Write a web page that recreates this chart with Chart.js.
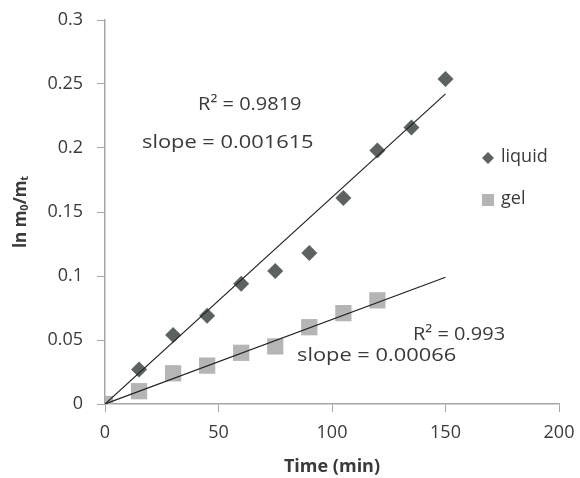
<!DOCTYPE html>
<html>
<head>
<meta charset="utf-8">
<script src="https://cdn.jsdelivr.net/npm/chart.js@4/dist/chart.umd.min.js"></script>
<style>
html,body{margin:0;padding:0;background:#fff;}
#wrap{width:580px;height:478px;position:relative;}
</style>
</head>
<body>
<div id="wrap"><canvas id="c" width="580" height="478"></canvas></div>
<script>
// Data
const timeMin = [0, 15, 30, 45, 60, 75, 90, 105, 120, 135, 150];
const liquidValues = [0, 0.027, 0.054, 0.069, 0.094, 0.104, 0.118, 0.161, 0.198, 0.216, 0.254];
const gelTime = [0, 15, 30, 45, 60, 75, 90, 105, 120];
const gelValues = [0, 0.010, 0.024, 0.030, 0.040, 0.045, 0.060, 0.071, 0.081];
const liquidSlope = 0.001615;
const gelSlope = 0.00066;
const fitEnd = 150;
const xTicks = [0, 50, 100, 150, 200];
const yTicks = [0, 0.05, 0.1, 0.15, 0.2, 0.25, 0.3];
const annotationTexts = ['R² = 0.9819', 'slope = 0.001615', 'R² = 0.993', 'slope = 0.00066'];
const annotationX = [41, 16.3, 135.7, 84.6];
const annotationY = [0.2336, 0.204, 0.0539, 0.0375];

const FONT = "'Open Sans', 'Liberation Sans', sans-serif";
const TXT = '#3a3a3a';
const AXIS = '#a6a6a6';
const LIQ = '#5c6262';
const GEL = '#b5b5b5';

const pts = (xs, ys) => xs.map((x, i) => ({x: x, y: ys[i]}));

const overlay = {
  id: 'overlay',
  afterDraw(chart) {
    const ctx = chart.ctx;
    const xs = chart.scales.x, ys = chart.scales.y;
    ctx.save();
    ctx.fillStyle = TXT;
    ctx.textAlign = 'left';
    ctx.textBaseline = 'middle';
    annotationTexts.forEach((t, i) => {
      const stretch = t.startsWith('slope') ? 1.18 : 1.08;
      ctx.save();
      ctx.font = "18.5px " + FONT;
      ctx.translate(xs.getPixelForValue(annotationX[i]), ys.getPixelForValue(annotationY[i]));
      ctx.scale(stretch, 1);
      ctx.fillText(t, 0, 0);
      ctx.restore();
    });
    // legend
    const ds = chart.data.datasets;
    const lx = 488, ly = [158, 200];
    [0, 1].forEach(i => {
      const d = ds[i];
      ctx.fillStyle = d.backgroundColor;
      const cx = lx, cy = ly[i];
      ctx.beginPath();
      if (d.pointStyle === 'rectRot') {
        ctx.moveTo(cx - 6, cy); ctx.lineTo(cx, cy - 6); ctx.lineTo(cx + 6, cy); ctx.lineTo(cx, cy + 6);
      } else {
        ctx.rect(cx - 6, cy - 6, 12, 12);
      }
      ctx.closePath();
      ctx.fill();
      ctx.fillStyle = TXT;
      ctx.font = "18px " + FONT;
      ctx.fillText(d.label, cx + 13, cy - 1);
    });
    // y title with subscripts
    ctx.translate(21, 212);
    ctx.rotate(-Math.PI / 2);
    ctx.fillStyle = TXT;
    const parts = [['ln m', 17, 0], ['0', 11, 4], ['/m', 17, 0], ['t', 11, 4]];
    let total = 0;
    parts.forEach(p => { ctx.font = "bold " + p[1] + "px " + FONT; total += ctx.measureText(p[0]).width; });
    let px = -total / 2;
    ctx.textAlign = 'left';
    parts.forEach(p => {
      ctx.font = "bold " + p[1] + "px " + FONT;
      ctx.fillText(p[0], px, p[2]);
      px += ctx.measureText(p[0]).width;
    });
    ctx.restore();
  }
};

new Chart(document.getElementById('c'), {
  type: 'scatter',
  data: {
    datasets: [
      {label: 'liquid', data: pts(timeMin, liquidValues), pointStyle: 'rectRot', pointRadius: 8, pointHoverRadius: 8,
       backgroundColor: LIQ, borderColor: LIQ, borderWidth: 0, order: 2},
      {label: 'gel', data: pts(gelTime, gelValues), pointStyle: 'rect', pointRadius: 11.5, pointHoverRadius: 11.5,
       backgroundColor: GEL, borderColor: GEL, borderWidth: 0, order: 1},
      {label: 'liquid fit', data: [{x: 0, y: 0}, {x: fitEnd, y: liquidSlope * fitEnd}], showLine: true, pointRadius: 0,
       borderColor: '#222', borderWidth: 1.2, fill: false, order: 0},
      {label: 'gel fit', data: [{x: 0, y: 0}, {x: fitEnd, y: gelSlope * fitEnd}], showLine: true, pointRadius: 0,
       borderColor: '#222', borderWidth: 1.2, fill: false, order: 0}
    ]
  },
  options: {
    responsive: false,
    animation: false,
    events: [],
    layout: {padding: {left: 0, right: 21, top: 20, bottom: 0}},
    plugins: {legend: {display: false}, tooltip: {enabled: false}},
    scales: {
      x: {
        type: 'linear', min: 0, max: 200,
        afterBuildTicks: s => { s.ticks = xTicks.map(v => ({value: v})); },
        afterFit: s => { s.height = 74; s.paddingLeft = 0; s.paddingRight = 0; },
        grid: {drawOnChartArea: false, drawTicks: true, tickLength: 8, color: AXIS},
        border: {color: AXIS, width: 1.5},
        ticks: {color: TXT, font: {size: 18, family: FONT}, padding: 10, maxRotation: 0},
        title: {display: true, text: 'Time (min)', color: TXT, font: {size: 18, weight: 'bold', family: FONT}, padding: {top: 0, bottom: 0}}
      },
      y: {
        type: 'linear', min: 0, max: 0.3,
        afterBuildTicks: s => { s.ticks = yTicks.map(v => ({value: v})); },
        afterFit: s => { s.width = 105; s.paddingTop = 0; s.paddingBottom = 0; },
        grid: {drawOnChartArea: false, drawTicks: true, tickLength: 8, color: AXIS},
        border: {color: AXIS, width: 1.5},
        ticks: {color: TXT, font: {size: 18, family: FONT}, padding: 14, callback: v => String(v)}
      }
    }
  },
  plugins: [overlay]
});
</script>
</body>
</html>
